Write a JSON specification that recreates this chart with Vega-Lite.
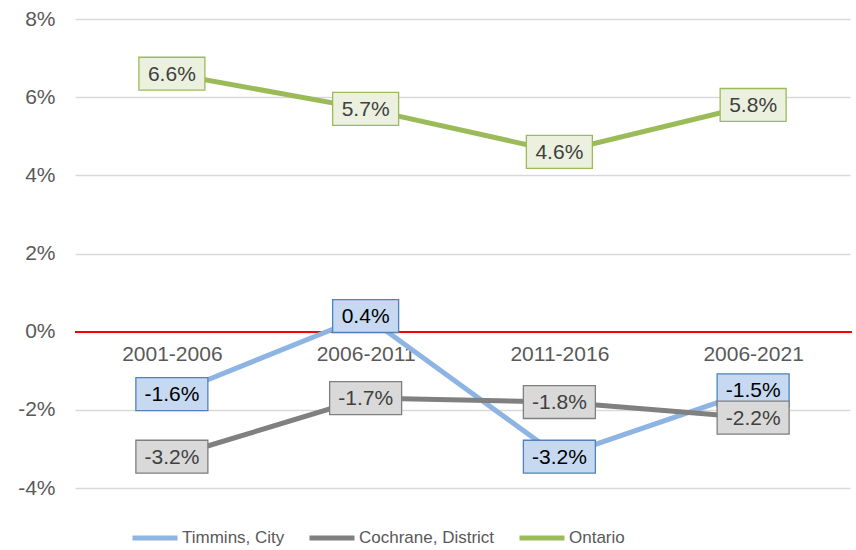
{
  "$schema": "https://vega.github.io/schema/vega-lite/v6.json",
  "width": 775,
  "height": 469,
  "autosize": {"type": "none"},
  "padding": {"left": 75, "top": 19, "right": 6, "bottom": 62},
  "background": "white",
  "config": {
    "view": {"stroke": null},
    "font": "Liberation Sans",
    "axis": {"labelFont": "Liberation Sans", "labelFontSize": 21, "labelColor": "#595959"},
    "legend": {"labelFont": "Liberation Sans", "labelFontSize": 17, "labelColor": "#595959"}
  },
  "data": {
    "values": [
      {"period": "2001-2006", "series": "Timmins, City", "value": -1.6},
      {"period": "2006-2011", "series": "Timmins, City", "value": 0.4},
      {"period": "2011-2016", "series": "Timmins, City", "value": -3.2},
      {"period": "2006-2021", "series": "Timmins, City", "value": -1.5},
      {"period": "2001-2006", "series": "Cochrane, District", "value": -3.2},
      {"period": "2006-2011", "series": "Cochrane, District", "value": -1.7},
      {"period": "2011-2016", "series": "Cochrane, District", "value": -1.8},
      {"period": "2006-2021", "series": "Cochrane, District", "value": -2.2},
      {"period": "2001-2006", "series": "Ontario", "value": 6.6},
      {"period": "2006-2011", "series": "Ontario", "value": 5.7},
      {"period": "2011-2016", "series": "Ontario", "value": 4.6},
      {"period": "2006-2021", "series": "Ontario", "value": 5.8}
    ]
  },
  "transform": [
    {"calculate": "replace(format(datum.value, '.1f'), '\u2212', '-') + '%'", "as": "label"}
  ],
  "encoding": {
    "x": {
      "field": "period", "type": "ordinal",
      "sort": ["2001-2006", "2006-2011", "2011-2016", "2006-2021"],
      "scale": {"type": "point", "padding": 0.5},
      "axis": {"title": null, "orient": "bottom", "offset": -157, "domain": false, "ticks": false, "labelPadding": 12, "labelAngle": 0, "grid": false}
    },
    "y": {
      "field": "value", "type": "quantitative",
      "scale": {"domain": [-4, 8], "nice": false},
      "axis": {"title": null, "values": [-4, -2, 0, 2, 4, 6, 8], "labelExpr": "datum.value + '%'", "domain": false, "ticks": false, "labelPadding": 20, "gridColor": "#d9d9d9", "gridWidth": 1.3}
    }
  },
  "layer": [
    {
      "mark": {"type": "rule", "color": "#ff0000", "strokeWidth": 1.5},
      "encoding": {"y": {"datum": 0}, "x": {"value": 0}, "x2": {"value": 777}}
    },
    {
      "mark": {"type": "line", "strokeWidth": 5},
      "encoding": {
        "color": {
          "field": "series", "type": "nominal",
          "scale": {"domain": ["Timmins, City", "Cochrane, District", "Ontario"], "range": ["#8db4e2", "#808080", "#9bbb59"]},
          "legend": {"title": null, "orient": "none", "direction": "horizontal", "legendX": 55, "legendY": 494, "symbolType": "stroke", "symbolStrokeWidth": 5, "symbolSize": 2025, "labelOffset": 2, "columnPadding": 14, "padding": 0}
        }
      }
    },
    {
      "transform": [{"filter": "datum.series == 'Timmins, City'"}],
      "layer": [
        {
          "mark": {"type": "point", "filled": true, "fill": "#c6d9f1", "stroke": "#4f81bd", "strokeWidth": 1.3, "opacity": 1, "size": 5184},
          "encoding": {"shape": {"condition": {"test": "datum.value < 0", "value": "M-1,-0.458H1V0.458H-1Z"}, "value": "M-0.9167,-0.458H0.9167V0.458H-0.9167Z"}}
        },
        {
          "mark": {"type": "text", "fontSize": 21, "color": "#000000", "baseline": "middle", "dy": 1},
          "encoding": {"text": {"field": "label", "type": "nominal"}}
        }
      ]
    },
    {
      "transform": [{"filter": "datum.series == 'Cochrane, District'"}],
      "layer": [
        {
          "mark": {"type": "point", "filled": true, "fill": "#d9d9d9", "stroke": "#7f7f7f", "strokeWidth": 1.3, "opacity": 1, "size": 5184},
          "encoding": {"shape": {"condition": {"test": "datum.value < 0", "value": "M-1,-0.458H1V0.458H-1Z"}, "value": "M-0.9167,-0.458H0.9167V0.458H-0.9167Z"}}
        },
        {
          "mark": {"type": "text", "fontSize": 21, "color": "#404040", "baseline": "middle", "dy": 1},
          "encoding": {"text": {"field": "label", "type": "nominal"}}
        }
      ]
    },
    {
      "transform": [{"filter": "datum.series == 'Ontario'"}],
      "layer": [
        {
          "mark": {"type": "point", "filled": true, "fill": "#ebf1de", "stroke": "#9bbb59", "strokeWidth": 1.3, "opacity": 1, "size": 5184},
          "encoding": {"shape": {"condition": {"test": "datum.value < 0", "value": "M-1,-0.458H1V0.458H-1Z"}, "value": "M-0.9167,-0.458H0.9167V0.458H-0.9167Z"}}
        },
        {
          "mark": {"type": "text", "fontSize": 21, "color": "#404040", "baseline": "middle", "dy": 1},
          "encoding": {"text": {"field": "label", "type": "nominal"}}
        }
      ]
    }
  ]
}
